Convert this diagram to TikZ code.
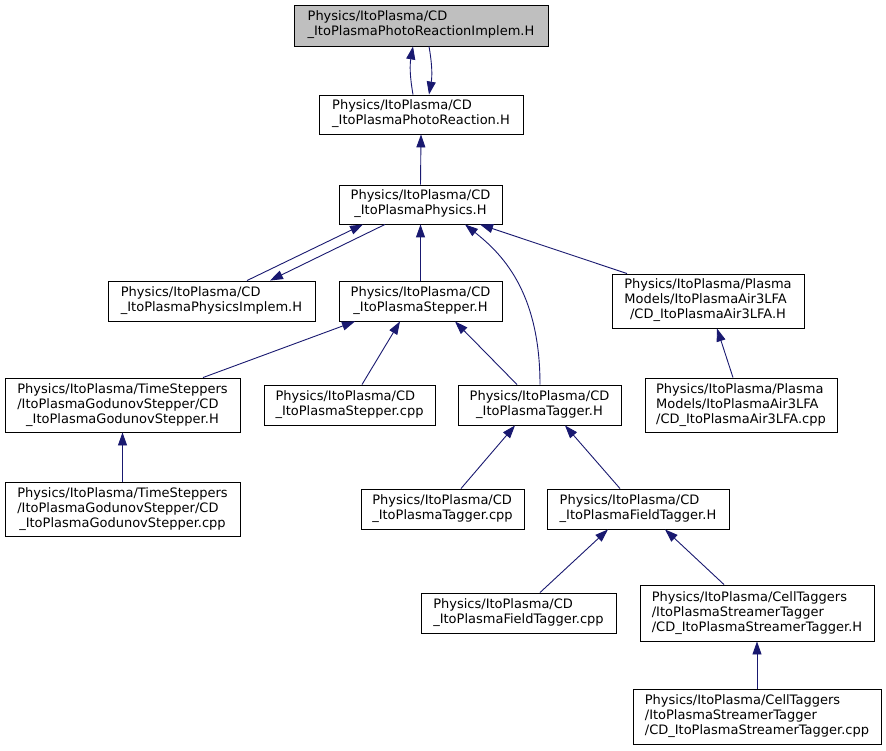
\documentclass[tikz,border=0pt]{standalone}
\usepackage{fontspec}
\setmainfont{DejaVu Sans}
\usetikzlibrary{arrows.meta,calc}
\definecolor{edgecol}{RGB}{25,25,112}
\definecolor{curfill}{RGB}{191,191,191}
\newcommand\lblii[2]{\begin{tabular}{@{}l@{}}#1\\\multicolumn{1}{@{}c@{}}{#2}\end{tabular}}
\newcommand\lbliii[3]{\begin{tabular}{@{}l@{}}#1\\#2\\\multicolumn{1}{@{}c@{}}{#3}\end{tabular}}
\tikzset{
  filebox/.style={draw=black, line width=0.9pt, fill=white, inner sep=0pt,
    font=\fontsize{13}{15}\selectfont},
  dep/.style={draw=edgecol, line width=0.9pt, -{Triangle[length=13pt,width=9pt]}},
}
\begin{document}
\begin{tikzpicture}[x=1pt,y=-1pt]
\useasboundingbox[fill=white] (0,0) rectangle (886,751);
\node[filebox, fill=curfill, minimum width=254pt, minimum height=41pt] (impl) at (421,25.5) {\lblii{Physics/ItoPlasma/CD}{\_ItoPlasmaPhotoReactionImplem.H}};
\node[filebox, minimum width=204pt, minimum height=39pt] (photo) at (421,114.5) {\lblii{Physics/ItoPlasma/CD}{\_ItoPlasmaPhotoReaction.H}};
\node[filebox, minimum width=163pt, minimum height=39pt] (phys) at (420.5,204.5) {\lblii{Physics/ItoPlasma/CD}{\_ItoPlasmaPhysics.H}};
\node[filebox, minimum width=207pt, minimum height=40pt] (physimpl) at (211.5,301) {\lblii{Physics/ItoPlasma/CD}{\_ItoPlasmaPhysicsImplem.H}};
\node[filebox, minimum width=163pt, minimum height=40pt] (stepH) at (420.5,301) {\lblii{Physics/ItoPlasma/CD}{\_ItoPlasmaStepper.H}};
\node[filebox, minimum width=192pt, minimum height=54pt] (airH) at (708,301) {\lbliii{Physics/ItoPlasma/Plasma}{Models/ItoPlasmaAir3LFA}{/CD\_ItoPlasmaAir3LFA.H}};
\node[filebox, minimum width=235pt, minimum height=54pt] (godH) at (122.5,405) {\lbliii{Physics/ItoPlasma/TimeSteppers}{/ItoPlasmaGodunovStepper/CD}{\_ItoPlasmaGodunovStepper.H}};
\node[filebox, minimum width=171pt, minimum height=40pt] (stepcpp) at (349.5,405) {\lblii{Physics/ItoPlasma/CD}{\_ItoPlasmaStepper.cpp}};
\node[filebox, minimum width=163pt, minimum height=40pt] (taggerH) at (539.5,405) {\lblii{Physics/ItoPlasma/CD}{\_ItoPlasmaTagger.H}};
\node[filebox, minimum width=192pt, minimum height=54pt] (aircpp) at (741,405) {\lbliii{Physics/ItoPlasma/Plasma}{Models/ItoPlasmaAir3LFA}{/CD\_ItoPlasmaAir3LFA.cpp}};
\node[filebox, minimum width=235pt, minimum height=54pt] (godcpp) at (122.5,509) {\lbliii{Physics/ItoPlasma/TimeSteppers}{/ItoPlasmaGodunovStepper/CD}{\_ItoPlasmaGodunovStepper.cpp}};
\node[filebox, minimum width=163pt, minimum height=40pt] (taggercpp) at (442.5,509) {\lblii{Physics/ItoPlasma/CD}{\_ItoPlasmaTagger.cpp}};
\node[filebox, minimum width=182pt, minimum height=40pt] (fieldH) at (638,509) {\lblii{Physics/ItoPlasma/CD}{\_ItoPlasmaFieldTagger.H}};
\node[filebox, minimum width=195pt, minimum height=40pt] (fieldcpp) at (518.5,613) {\lblii{Physics/ItoPlasma/CD}{\_ItoPlasmaFieldTagger.cpp}};
\node[filebox, minimum width=234pt, minimum height=56pt] (streamH) at (757,613) {\lbliii{Physics/ItoPlasma/CellTaggers}{/ItoPlasmaStreamerTagger}{/CD\_ItoPlasmaStreamerTagger.H}};
\node[filebox, minimum width=248pt, minimum height=55pt] (streamcpp) at (757,716.5) {\lbliii{Physics/ItoPlasma/CellTaggers}{/ItoPlasmaStreamerTagger}{/CD\_ItoPlasmaStreamerTagger.cpp}};

% edges
\draw[dep] ($(photo.north)+(-8,0)$) to[bend left=10] ($(impl.south)+(-8,0)$);
\draw[dep] ($(impl.south)+(8,0)$) to[bend left=10] ($(photo.north)+(8,0)$);
\draw[dep] (phys.north) -- (photo.south);
\draw[dep] ($(physimpl.north)+(35.5,0)$) -- ($(phys.south)+(-57.5,0)$);
\draw[dep] ($(phys.south)+(-35.5,0)$) -- ($(physimpl.north)+(58.5,0)$);
\draw[dep] (stepH.north) -- (phys.south);
\draw[dep] ($(taggerH.north)+(0.5,0)$) .. controls +(0,-95) and +(35,28) .. ($(phys.south)+(44.5,0)$);
\draw[dep] ($(airH.north)+(-81,0)$) -- ($(phys.south)+(59.5,0)$);
\draw[dep] ($(godH.north)+(80.5,0)$) -- ($(stepH.south)+(-65.5,0)$);
\draw[dep] ($(stepcpp.north)+(12.5,0)$) -- ($(stepH.south)+(-20.5,0)$);
\draw[dep] ($(taggerH.north)+(-22.5,0)$) -- ($(stepH.south)+(34.5,0)$);
\draw[dep] ($(aircpp.north)+(-8,0)$) -- ($(airH.south)+(9,0)$);
\draw[dep] (godcpp.north) -- (godH.south);
\draw[dep] ($(taggercpp.north)+(18.5,0)$) -- ($(taggerH.south)+(-24.5,0)$);
\draw[dep] ($(fieldH.north)+(-18,0)$) -- ($(taggerH.south)+(25.5,0)$);
\draw[dep] ($(fieldcpp.north)+(21.5,0)$) -- ($(fieldH.south)+(-30,0)$);
\draw[dep] ($(streamH.north)+(-33,0)$) -- ($(fieldH.south)+(27,0)$);
\draw[dep] (streamcpp.north) -- (streamH.south);
\end{tikzpicture}
\end{document}
